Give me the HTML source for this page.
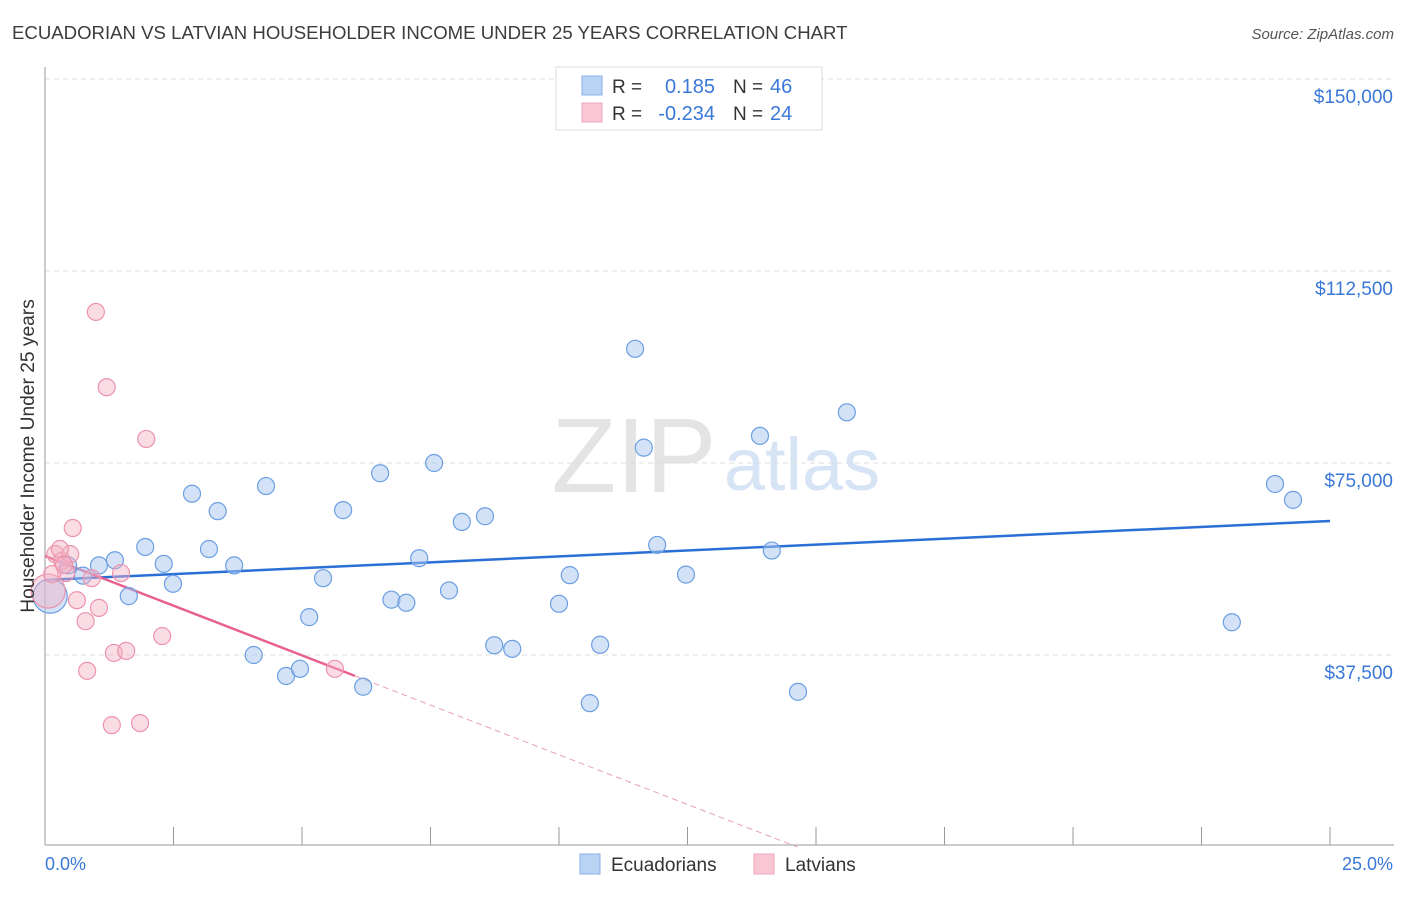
<!DOCTYPE html>
<html><head><meta charset="utf-8"><style>
body{margin:0;background:#fff;font-family:"Liberation Sans",sans-serif;}
svg text{font-family:"Liberation Sans",sans-serif;}
</style></head><body>
<svg id="chart" width="1406" height="892" xmlns="http://www.w3.org/2000/svg">
<text x="12" y="39" font-size="18.6" fill="#3c3c3c">ECUADORIAN VS LATVIAN HOUSEHOLDER INCOME UNDER 25 YEARS CORRELATION CHART</text>
<text x="1394" y="39" font-size="15" fill="#555" text-anchor="end" font-style="italic">Source: ZipAtlas.com</text>
<text x="634" y="492" font-size="106" fill="#e4e4e4" font-family="Liberation Serif" text-anchor="middle">ZIP</text>
<text x="802" y="490" font-size="74" fill="#d6e4f6" text-anchor="middle">atlas</text>
<g id="grid"></g><g id="axes"></g><g id="trend"></g><g id="pts"></g>
<g>
<rect x="556" y="67" width="266" height="63" fill="#fff" stroke="#ddd"/>
<rect x="582" y="76" width="20" height="19" fill="#b9d3f5" stroke="#8ab2e8"/>
<rect x="582" y="103" width="20" height="19" fill="#f9c6d4" stroke="#eea6bb"/>
<text x="612" y="93" font-size="19" fill="#333">R =</text>
<text x="715" y="93" font-size="20" fill="#3a78d8" text-anchor="end">0.185</text>
<text x="733" y="93" font-size="19" fill="#333">N =</text>
<text x="770" y="93" font-size="20" fill="#3a78d8">46</text>
<text x="612" y="120" font-size="19" fill="#333">R =</text>
<text x="715" y="120" font-size="20" fill="#3a78d8" text-anchor="end">-0.234</text>
<text x="733" y="120" font-size="19" fill="#333">N =</text>
<text x="770" y="120" font-size="20" fill="#3a78d8">24</text>
</g>
<g>
<rect x="580" y="854" width="20" height="20" fill="#b9d3f5" stroke="#8ab2e8"/>
<text x="611" y="871" font-size="19" fill="#333">Ecuadorians</text>
<rect x="754" y="854" width="20" height="20" fill="#f9c6d4" stroke="#eea6bb"/>
<text x="785" y="871" font-size="19" fill="#333">Latvians</text>
</g>
<text x="45" y="870" font-size="18" fill="#3a78d8">0.0%</text>
<text x="1393" y="870" font-size="18" fill="#3a78d8" text-anchor="end">25.0%</text>
<text transform="translate(34,456) rotate(-90)" font-size="19.2" fill="#333" text-anchor="middle">Householder Income Under 25 years</text>
</svg>
<script>
const yTicks=[37500,75000,112500,150000];
const yTickLabels=["$37,500","$75,000","$112,500","$150,000"];
const xTicks=[0,2.5,5,7.5,10,12.5,15,17.5,20,22.5,25];
const ecuX=[0.1,0.45,0.74,1.05,1.36,1.63,1.95,2.31,2.49,2.86,3.19,3.36,3.68,4.06,4.3,4.69,4.96,5.14,5.41,5.8,6.19,6.52,6.74,7.03,7.28,7.57,7.86,8.11,8.56,8.74,9.09,10.0,10.21,10.6,10.8,11.48,11.65,11.91,12.47,13.91,14.14,14.65,15.6,23.09,23.93,24.28];
const ecuY=[49000,55000,53000,55000,56000,49000,58600,55300,51400,69000,58200,65600,55000,37500,70500,33400,34800,44900,52500,65800,31300,73000,48300,47700,56400,75000,50100,63500,64600,39400,38700,47500,53100,28100,39500,97300,78000,59000,53200,80300,57900,30300,84900,43900,70900,67800];
const latX=[0.06,0.2,0.33,0.41,0.49,0.54,0.62,0.79,0.82,0.91,0.99,1.05,1.2,1.3,1.34,1.48,1.58,1.85,1.97,2.28,5.64,0.14,0.29,0.37];
const latY=[50000,57200,55900,53500,57200,62300,48200,44100,34400,52500,104500,46700,89800,23800,37900,53500,38300,24200,79700,41200,34800,53300,58200,55100];
const ecuSize=[2,1,1,1,1,1,1,1,1,1,1,1,1,1,1,1,1,1,1,1,1,1,1,1,1,1,1,1,1,1,1,1,1,1,1,1,1,1,1,1,1,1,1,1,1,1];
const latSize=[2,1,1,1,1,1,1,1,1,1,1,1,1,1,1,1,1,1,1,1,1,1,1,1];
const ecuTrend=[52150,63670];
const latTrend=[56840,-40230];
const latSolidEnd=6.03;
const X0=45,X1=1330,YB=847,PPV=192/37500;
const sx=v=>X0+(v/25)*(X1-X0), sy=v=>YB-v*PPV;
const NS="http://www.w3.org/2000/svg";
function mk(parent,tag,attrs){const e=document.createElementNS(NS,tag);for(const k in attrs)e.setAttribute(k,attrs[k]);document.getElementById(parent).appendChild(e);return e;}
yTicks.forEach((t,i)=>{
 const l=mk('grid','line',{x1:45,x2:1394,y1:sy(t),y2:sy(t),stroke:'#ddd','stroke-dasharray':'5,4'});
 
 
 const tx=mk('grid','text',{x:1393,y:sy(t)+24,'font-size':19,fill:'#3a78d8','text-anchor':'end'});
 tx.textContent=yTickLabels[i];
 
 
});
const ax=mk('axes','line',{x1:45,x2:45,y1:67,y2:845,stroke:'#999'});


const bx=mk('axes','line',{x1:45,x2:1394,y1:845,y2:845,stroke:'#999'});


xTicks.forEach(t=>{const l=mk('axes','line',{x1:sx(t),x2:sx(t),y1:827,y2:845,stroke:'#999'});
 
 });
let el=mk('trend','line',{x1:sx(0),y1:sy(ecuTrend[0]),x2:sx(25),y2:sy(ecuTrend[1]),stroke:'#2a6fd6','stroke-width':2.5});


const lt=x=>latTrend[0]+(latTrend[1]-latTrend[0])*x/25;
const zeroX=25*latTrend[0]/(latTrend[0]-latTrend[1]);
el=mk('trend','line',{x1:sx(0),y1:sy(lt(0)),x2:sx(latSolidEnd),y2:sy(lt(latSolidEnd)),stroke:'#e8608e','stroke-width':2.5});


el=mk('trend','line',{x1:sx(latSolidEnd),y1:sy(lt(latSolidEnd)),x2:sx(zeroX),y2:sy(0),stroke:'#e8a0b8','stroke-width':1,'stroke-dasharray':'6,4'});


ecuX.forEach((x,i)=>{const c=mk('pts','circle',{cx:sx(x),cy:sy(ecuY[i]),r:ecuSize[i]>1?17:8.5,fill:'rgba(168,198,240,0.5)',stroke:'#6b9fe2','stroke-width':1.2});
 
 });
latX.forEach((x,i)=>{const c=mk('pts','circle',{cx:sx(x),cy:sy(latY[i]),r:latSize[i]>1?17:8.5,fill:'rgba(245,178,198,0.45)',stroke:'#ec93ae','stroke-width':1.2});
 
 });
</script>
</body></html>
